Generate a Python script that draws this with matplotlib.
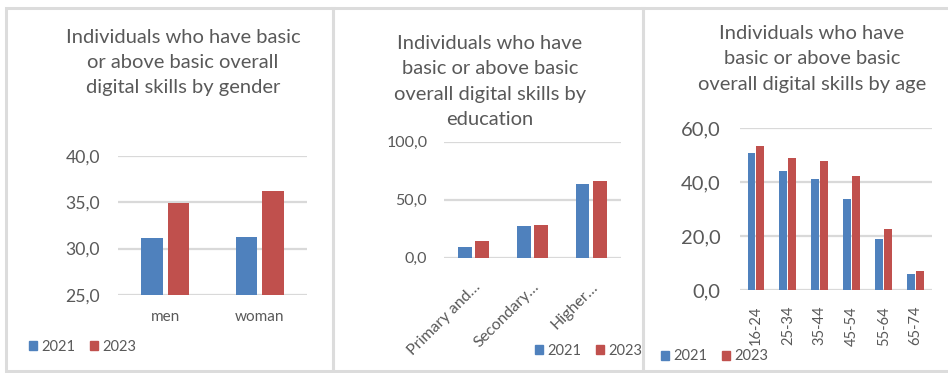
import numpy as np
import matplotlib
matplotlib.use('Agg')
import matplotlib.pyplot as plt
import matplotlib.transforms as mtrans
from matplotlib.patches import Patch, Rectangle

# data: share of individuals with basic or above basic overall digital skills
years = ['2021', '2023']

gender = ['men', 'woman']
gender_2021 = [31.1, 31.2]
gender_2023 = [34.9, 36.2]

education = ['Primary and…', 'Secondary…', 'Higher…']
educ_2021 = [9.5, 27.3, 63.8]
educ_2023 = [14.1, 28.2, 66.1]

age = ['16-24', '25-34', '35-44', '45-54', '55-64', '65-74']
age_2021 = [50.8, 44.3, 41.3, 33.7, 19.0, 6.1]
age_2023 = [53.3, 49.0, 48.0, 42.4, 22.8, 7.1]

BLUE = '#4f81bd'
RED = '#c0504d'
GREY = '#595959'
GRID = '#d9d9d9'

plt.rcParams['font.family'] = ['Lato', 'DejaVu Sans']

W, H = 948, 373
fig = plt.figure(figsize=(W / 100, H / 100), dpi=100)


def px_axes(x0, y0, x1, y1):
    # axes from pixel box (top-left origin)
    return fig.add_axes([x0 / W, 1 - y1 / H, (x1 - x0) / W, (y1 - y0) / H])


def comma(v):
    return ('%.1f' % v).replace('.', ',')


def style(ax, ylim, yticks, fs, pad):
    ax.set_ylim(*ylim)
    ax.set_yticks(yticks)
    ax.set_yticklabels([comma(t) for t in yticks], fontsize=fs, color=GREY)
    ax.tick_params(length=0)
    ax.tick_params(axis='y', pad=pad)
    for s in ax.spines.values():
        s.set_visible(False)
    ax.yaxis.grid(True, color=GRID, lw=1.6)
    ax.set_axisbelow(True)
    ax.set_facecolor('none')


def bars(ax, cats, a, b, w, gap, base=0):
    x = np.arange(len(cats))
    ax.bar(x - w / 2 - gap / 2, np.array(a) - base, width=w, bottom=base, color=BLUE)
    ax.bar(x + w / 2 + gap / 2, np.array(b) - base, width=w, bottom=base, color=RED)
    ax.set_xlim(-0.5, len(cats) - 0.5)
    ax.set_xticks(x)
    return x


def legend(ax, xpx, ypx):
    h = [Patch(color=BLUE), Patch(color=RED)]
    ax.legend(h, years, loc='center left', bbox_to_anchor=(xpx / W, 1 - ypx / H),
              bbox_transform=fig.transFigure, ncol=2, frameon=False,
              fontsize=10.5, labelcolor=GREY, handlelength=0.55, handleheight=0.55,
              handletextpad=0.3, columnspacing=1.0, borderpad=0, borderaxespad=0)


def title(xpx, ypx, s):
    fig.text(xpx / W, 1 - ypx / H, s, ha='center', va='center',
             fontsize=14.5, color=GREY, linespacing=1.6)


# panel 1: gender
ax1 = px_axes(118, 155.7, 307, 295)
bars(ax1, gender, gender_2021, gender_2023, 0.23, 0.05, base=25)
ax1.set_xticklabels(gender, fontsize=11, color=GREY)
ax1.tick_params(axis='x', pad=11)
style(ax1, (25, 40), [25, 30, 35, 40], 12.7, 13)
legend(ax1, 29, 347)
title(183, 62.5, 'Individuals who have basic\nor above basic overall\ndigital skills by gender')

# panel 2: education
ax2 = px_axes(444, 141.7, 620.7, 257.7)
bars(ax2, education, educ_2021, educ_2023, 0.23, 0.06)
ax2.set_xticklabels(education, fontsize=11.5, color=GREY, rotation=45,
                    ha='right', va='top', rotation_mode='anchor')
ax2.tick_params(axis='x', pad=16)
shift = mtrans.ScaledTranslation(0.12, 0, fig.dpi_scale_trans)
for lab in ax2.get_xticklabels():
    lab.set_transform(lab.get_transform() + shift)
style(ax2, (0, 100), [0, 50, 100], 11.5, 12)
legend(ax2, 535, 351)
title(490, 81.5, 'Individuals who have\nbasic or above basic\noverall digital skills by\neducation')

# panel 3: age
ax3 = px_axes(740, 128.3, 931.7, 290)
bars(ax3, age, age_2021, age_2023, 0.25, 0.03)
ax3.set_xticklabels(age, fontsize=10.5, color=GREY, rotation=90, va='top')
ax3.tick_params(axis='x', pad=11.5)
style(ax3, (0, 60), [0, 20, 40, 60], 14.5, 14)
legend(ax3, 661, 356.5)
title(812, 59, 'Individuals who have\nbasic or above basic\noverall digital skills by age')

# panel frames
for x0, x1 in [(6, 333), (333, 643), (643, 950)]:
    fig.add_artist(Rectangle((x0 / W, 1 - 371 / H), (x1 - x0) / W, (371 - 8) / H,
                             transform=fig.transFigure, fill=False,
                             edgecolor='#dcdcdc', lw=2.2))

fig.savefig('out.png', dpi=100)
